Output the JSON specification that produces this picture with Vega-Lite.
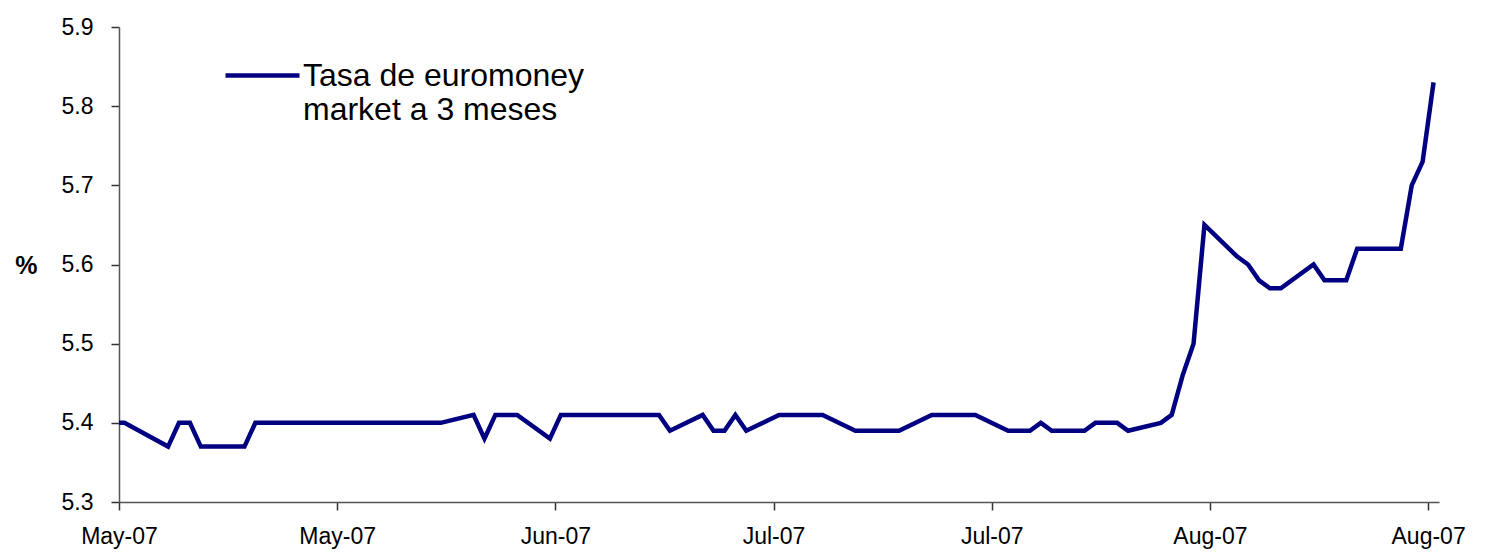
{
  "$schema": "https://vega.github.io/schema/vega-lite/v6.json",
  "width": 1320,
  "height": 475,
  "autosize": "none",
  "padding": {"left": 119, "top": 27, "right": 48, "bottom": 50},
  "background": "white",
  "config": {
    "view": {"stroke": null},
    "font": "Liberation Sans"
  },
  "data": {
    "values": [
      {"date": "2007-05-02", "serie": "Tasa de euromoney market a 3 meses", "tasa": 5.40},
      {"date": "2007-05-03", "serie": "Tasa de euromoney market a 3 meses", "tasa": 5.40},
      {"date": "2007-05-07", "serie": "Tasa de euromoney market a 3 meses", "tasa": 5.37},
      {"date": "2007-05-08", "serie": "Tasa de euromoney market a 3 meses", "tasa": 5.40},
      {"date": "2007-05-09", "serie": "Tasa de euromoney market a 3 meses", "tasa": 5.40},
      {"date": "2007-05-10", "serie": "Tasa de euromoney market a 3 meses", "tasa": 5.37},
      {"date": "2007-05-14", "serie": "Tasa de euromoney market a 3 meses", "tasa": 5.37},
      {"date": "2007-05-15", "serie": "Tasa de euromoney market a 3 meses", "tasa": 5.40},
      {"date": "2007-06-01", "serie": "Tasa de euromoney market a 3 meses", "tasa": 5.40},
      {"date": "2007-06-04", "serie": "Tasa de euromoney market a 3 meses", "tasa": 5.41},
      {"date": "2007-06-05", "serie": "Tasa de euromoney market a 3 meses", "tasa": 5.38},
      {"date": "2007-06-06", "serie": "Tasa de euromoney market a 3 meses", "tasa": 5.41},
      {"date": "2007-06-08", "serie": "Tasa de euromoney market a 3 meses", "tasa": 5.41},
      {"date": "2007-06-11", "serie": "Tasa de euromoney market a 3 meses", "tasa": 5.38},
      {"date": "2007-06-12", "serie": "Tasa de euromoney market a 3 meses", "tasa": 5.41},
      {"date": "2007-06-21", "serie": "Tasa de euromoney market a 3 meses", "tasa": 5.41},
      {"date": "2007-06-22", "serie": "Tasa de euromoney market a 3 meses", "tasa": 5.39},
      {"date": "2007-06-25", "serie": "Tasa de euromoney market a 3 meses", "tasa": 5.41},
      {"date": "2007-06-26", "serie": "Tasa de euromoney market a 3 meses", "tasa": 5.39},
      {"date": "2007-06-27", "serie": "Tasa de euromoney market a 3 meses", "tasa": 5.39},
      {"date": "2007-06-28", "serie": "Tasa de euromoney market a 3 meses", "tasa": 5.41},
      {"date": "2007-06-29", "serie": "Tasa de euromoney market a 3 meses", "tasa": 5.39},
      {"date": "2007-07-02", "serie": "Tasa de euromoney market a 3 meses", "tasa": 5.41},
      {"date": "2007-07-06", "serie": "Tasa de euromoney market a 3 meses", "tasa": 5.41},
      {"date": "2007-07-09", "serie": "Tasa de euromoney market a 3 meses", "tasa": 5.39},
      {"date": "2007-07-13", "serie": "Tasa de euromoney market a 3 meses", "tasa": 5.39},
      {"date": "2007-07-16", "serie": "Tasa de euromoney market a 3 meses", "tasa": 5.41},
      {"date": "2007-07-20", "serie": "Tasa de euromoney market a 3 meses", "tasa": 5.41},
      {"date": "2007-07-23", "serie": "Tasa de euromoney market a 3 meses", "tasa": 5.39},
      {"date": "2007-07-25", "serie": "Tasa de euromoney market a 3 meses", "tasa": 5.39},
      {"date": "2007-07-26", "serie": "Tasa de euromoney market a 3 meses", "tasa": 5.40},
      {"date": "2007-07-27", "serie": "Tasa de euromoney market a 3 meses", "tasa": 5.39},
      {"date": "2007-07-30", "serie": "Tasa de euromoney market a 3 meses", "tasa": 5.39},
      {"date": "2007-07-31", "serie": "Tasa de euromoney market a 3 meses", "tasa": 5.40},
      {"date": "2007-08-02", "serie": "Tasa de euromoney market a 3 meses", "tasa": 5.40},
      {"date": "2007-08-03", "serie": "Tasa de euromoney market a 3 meses", "tasa": 5.39},
      {"date": "2007-08-06", "serie": "Tasa de euromoney market a 3 meses", "tasa": 5.40},
      {"date": "2007-08-07", "serie": "Tasa de euromoney market a 3 meses", "tasa": 5.41},
      {"date": "2007-08-08", "serie": "Tasa de euromoney market a 3 meses", "tasa": 5.46},
      {"date": "2007-08-09", "serie": "Tasa de euromoney market a 3 meses", "tasa": 5.50},
      {"date": "2007-08-10", "serie": "Tasa de euromoney market a 3 meses", "tasa": 5.65},
      {"date": "2007-08-13", "serie": "Tasa de euromoney market a 3 meses", "tasa": 5.61},
      {"date": "2007-08-14", "serie": "Tasa de euromoney market a 3 meses", "tasa": 5.60},
      {"date": "2007-08-15", "serie": "Tasa de euromoney market a 3 meses", "tasa": 5.58},
      {"date": "2007-08-16", "serie": "Tasa de euromoney market a 3 meses", "tasa": 5.57},
      {"date": "2007-08-17", "serie": "Tasa de euromoney market a 3 meses", "tasa": 5.57},
      {"date": "2007-08-20", "serie": "Tasa de euromoney market a 3 meses", "tasa": 5.60},
      {"date": "2007-08-21", "serie": "Tasa de euromoney market a 3 meses", "tasa": 5.58},
      {"date": "2007-08-23", "serie": "Tasa de euromoney market a 3 meses", "tasa": 5.58},
      {"date": "2007-08-24", "serie": "Tasa de euromoney market a 3 meses", "tasa": 5.62},
      {"date": "2007-08-28", "serie": "Tasa de euromoney market a 3 meses", "tasa": 5.62},
      {"date": "2007-08-29", "serie": "Tasa de euromoney market a 3 meses", "tasa": 5.70},
      {"date": "2007-08-30", "serie": "Tasa de euromoney market a 3 meses", "tasa": 5.73},
      {"date": "2007-08-31", "serie": "Tasa de euromoney market a 3 meses", "tasa": 5.83}
    ]
  },
  "mark": {"type": "line", "strokeWidth": 4.5, "clip": true, "strokeJoin": "miter"},
  "encoding": {
    "x": {
      "field": "date",
      "type": "temporal",
      "timeUnit": "utcyearmonthdate",
      "bandPosition": 0.5,
      "scale": {
        "type": "utc",
        "domain": [
          {"year": 2007, "month": 5, "date": 3, "utc": true},
          {"year": 2007, "month": 9, "date": 1, "utc": true}
        ]
      },
      "axis": {
        "title": null,
        "values": [
          {"year": 2007, "month": 5, "date": 3, "utc": true},
          {"year": 2007, "month": 5, "date": 23, "utc": true},
          {"year": 2007, "month": 6, "date": 12, "utc": true},
          {"year": 2007, "month": 7, "date": 2, "utc": true},
          {"year": 2007, "month": 7, "date": 22, "utc": true},
          {"year": 2007, "month": 8, "date": 11, "utc": true},
          {"year": 2007, "month": 8, "date": 31, "utc": true}
        ],
        "labelExpr": "utcFormat(datum.value, '%b-%y')",
        "labelFlush": false,
        "labelOverlap": false,
        "grid": false,
        "domainColor": "#555555",
        "domainWidth": 1.5,
        "tickColor": "#333333",
        "tickWidth": 1.5,
        "tickSize": 8,
        "labelFont": "Liberation Sans",
        "labelFontSize": 23,
        "labelColor": "#000000",
        "labelPadding": 15
      }
    },
    "y": {
      "field": "tasa",
      "type": "quantitative",
      "scale": {"domain": [5.3, 5.9], "nice": false, "zero": false},
      "axis": {
        "values": [5.3, 5.4, 5.5, 5.6, 5.7, 5.8, 5.9],
        "format": ".1f",
        "grid": false,
        "domainColor": "#555555",
        "domainWidth": 1.5,
        "tickColor": "#333333",
        "tickWidth": 1.5,
        "tickSize": 8,
        "labelFont": "Liberation Sans",
        "labelFontSize": 23,
        "labelColor": "#000000",
        "labelPadding": 18,
        "title": "%",
        "titleAngle": 0,
        "titleFont": "Liberation Sans",
        "titleFontSize": 25,
        "titleFontWeight": "bold",
        "titleColor": "#000000",
        "titleAlign": "right",
        "titleBaseline": "middle",
        "titleX": -82,
        "titleY": 238
      }
    },
    "color": {
      "field": "serie",
      "type": "nominal",
      "scale": {"range": ["#000080"]},
      "legend": {
        "title": null,
        "orient": "none",
        "legendX": 104,
        "legendY": 9,
        "padding": 0,
        "symbolType": "stroke",
        "symbolSize": 5476,
        "symbolStrokeWidth": 4.5,
        "labelFont": "Liberation Sans",
        "labelFontSize": 32,
        "labelColor": "#000000",
        "labelOffset": 1,
        "labelLimit": 600,
        "labelExpr": "[slice(datum.label, 0, 17), slice(datum.label, 18)]"
      }
    }
  }
}
